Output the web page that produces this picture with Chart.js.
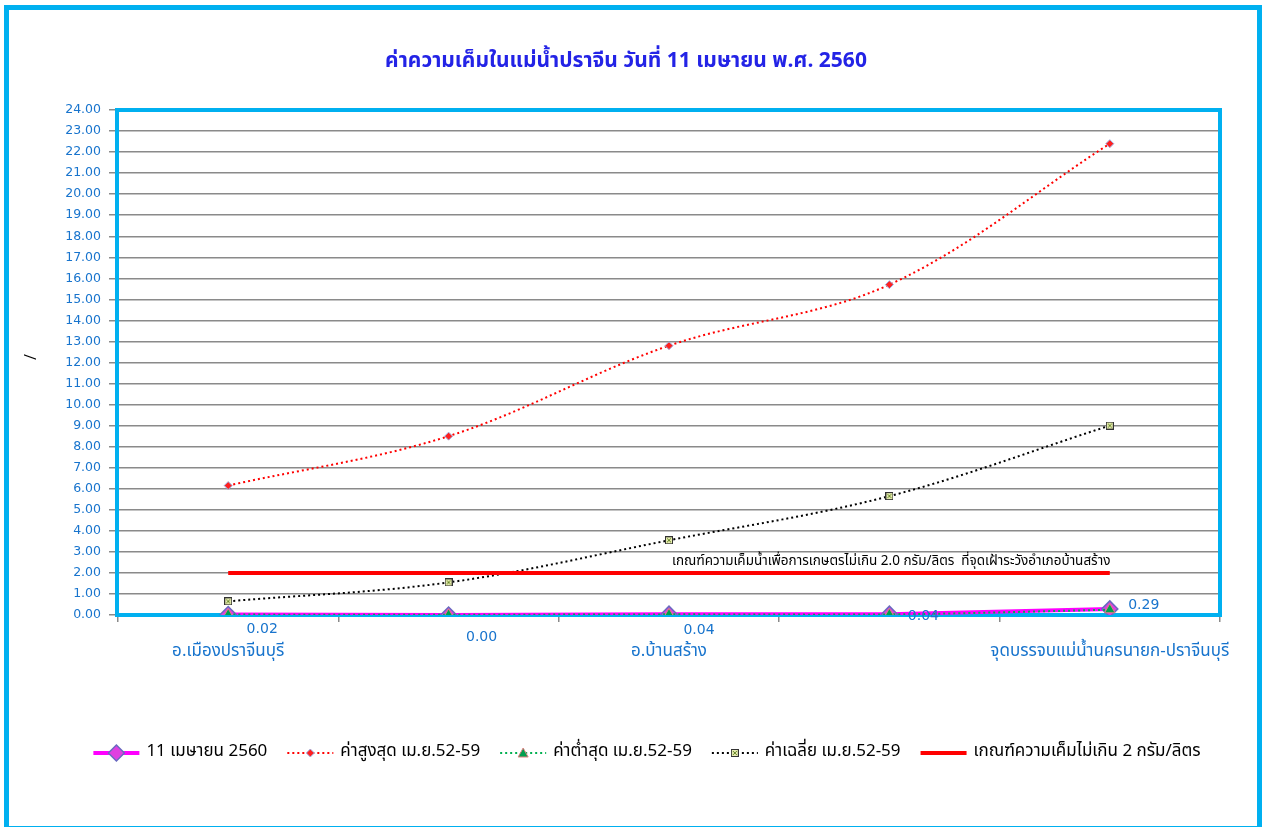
<!DOCTYPE html>
<html>
<head>
<meta charset="utf-8">
<script src="https://cdn.jsdelivr.net/npm/chart.js@4.4.1/dist/chart.umd.min.js"></script>
<style>
html,body{margin:0;padding:0;background:#fff;}
#wrap{position:relative;width:1263px;height:827px;}
</style>
</head>
<body>
<div id="wrap"><canvas id="c" width="1263" height="827"></canvas></div>
<script>
const categories = ['อ.เมืองปราจีนบุรี', '', 'อ.บ้านสร้าง', '', 'จุดบรรจบแม่น้ำนครนายก-ปราจีนบุรี'];
const current2560 = [0.02, 0.00, 0.04, 0.04, 0.29];
const maxValues = [6.15, 8.50, 12.80, 15.70, 22.40];
const minValues = [0.02, 0.01, 0.03, 0.03, 0.25];
const avgValues = [0.65, 1.55, 3.55, 5.65, 9.00];
const criterion = [2, 2, 2, 2, 2];
const yTicks = [0,1,2,3,4,5,6,7,8,9,10,11,12,13,14,15,16,17,18,19,20,21,22,23,24];
const seriesNames = ['11 เมษายน 2560', 'ค่าสูงสุด เม.ย.52-59', 'ค่าต่ำสุด เม.ย.52-59', 'ค่าเฉลี่ย เม.ย.52-59', 'เกณฑ์ความเค็มไม่เกิน 2 กรัม/ลิตร'];
const titleText = 'ค่าความเค็มในแม่น้ำปราจีน วันที่ 11 เมษายน พ.ศ. 2560';
const noteText = 'เกณฑ์ความเค็มน้ำเพื่อการเกษตรไม่เกิน 2.0 กรัม/ลิตร  ที่จุดเฝ้าระวังอำเภอบ้านสร้าง';

const THAI = 'Tahoma, "Noto Sans Thai", "Noto Sans", "DejaVu Sans", sans-serif';
const NUM = '"DejaVu Sans", Tahoma, sans-serif';
const CYAN = '#00B0F0';
const BLUE = '#1874CD';

function avgMarker(){
  const c = document.createElement('canvas'); c.width = 8; c.height = 8;
  const g = c.getContext('2d');
  g.fillStyle = '#E6EBB0'; g.fillRect(0,0,8,8);
  g.strokeStyle = '#333'; g.lineWidth = 1; g.strokeRect(0.5,0.5,7,7);
  g.strokeStyle = '#6A8A2A'; g.beginPath(); g.moveTo(2,2); g.lineTo(6,6); g.moveTo(6,2); g.lineTo(2,6); g.stroke();
  return c;
}
const avgImg = avgMarker();

const labelOffsets = [[34,15],[33,22],[30,16],[34,2],[34,-4]];

const decoPlugin = {
  id: 'deco',
  beforeDatasetsDraw(chart){
    const {ctx, chartArea:a} = chart;
    ctx.save();
    ctx.strokeStyle = CYAN; ctx.lineWidth = 4;
    ctx.strokeRect(a.left-1, a.top, a.right-a.left+1, a.bottom-a.top);
    ctx.restore();
  },
  afterDatasetsDraw(chart){
    const {ctx} = chart;
    const xs = chart.scales.x, ys = chart.scales.y;
    ctx.save();
    ctx.fillStyle = BLUE; ctx.font = '14px ' + NUM; ctx.textAlign = 'center'; ctx.textBaseline = 'middle';
    current2560.forEach((v,i)=>{
      const px = xs.getPixelForValue(i), py = ys.getPixelForValue(v);
      ctx.fillText(v.toFixed(2), px + labelOffsets[i][0], py + labelOffsets[i][1]);
    });
    ctx.fillStyle = '#000'; ctx.font = '13.5px ' + THAI; ctx.textAlign = 'left';
    ctx.fillText(noteText, xs.getPixelForValue(2) + 3, ys.getPixelForValue(2) - 11);
    ctx.restore();
  },
  afterDraw(chart){
    const {ctx} = chart;
    ctx.save();
    ctx.strokeStyle = CYAN; ctx.lineWidth = 5;
    ctx.strokeRect(6.5, 7.5, 1253, 821);
    ctx.fillStyle = '#2323E6'; ctx.font = 'bold 21px ' + THAI; ctx.textAlign = 'center'; ctx.textBaseline = 'middle';
    ctx.fillText(titleText, 626, 63);
    ctx.translate(33, 357); ctx.rotate(-Math.PI/2);
    ctx.fillStyle = '#000'; ctx.font = '16px ' + THAI;
    ctx.fillText('/', 0, 0);
    ctx.restore();
    // legend
    ctx.save();
    ctx.font = '17px ' + THAI; ctx.textBaseline = 'middle'; ctx.textAlign = 'left';
    const lineLen = 46, gap = 7, itemGap = 20, y = 753;
    const widths = seriesNames.map(n => lineLen + gap + ctx.measureText(n).width);
    const total = widths.reduce((s,w)=>s+w,0) + itemGap*(seriesNames.length-1);
    let x = 647 - total/2;
    const dsets = chart.data.datasets;
    seriesNames.forEach((n,i)=>{
      const d = dsets[i];
      ctx.save();
      ctx.strokeStyle = d.borderColor; ctx.lineWidth = d.borderWidth;
      ctx.setLineDash(d.borderDash || []);
      ctx.beginPath(); ctx.moveTo(x, y); ctx.lineTo(x+lineLen, y); ctx.stroke();
      ctx.setLineDash([]);
      const mx = x + lineLen/2;
      if (i === 0) {
        ctx.fillStyle = '#E040E0'; ctx.strokeStyle = '#6A6AC0'; ctx.lineWidth = 1.5;
        ctx.beginPath(); ctx.moveTo(mx, y-8); ctx.lineTo(mx+8, y); ctx.lineTo(mx, y+8); ctx.lineTo(mx-8, y); ctx.closePath(); ctx.fill(); ctx.stroke();
      } else if (i === 1) {
        ctx.fillStyle = '#FF2020'; ctx.strokeStyle = '#9DB0E0'; ctx.lineWidth = 1;
        ctx.beginPath(); ctx.moveTo(mx, y-4); ctx.lineTo(mx+4, y); ctx.lineTo(mx, y+4); ctx.lineTo(mx-4, y); ctx.closePath(); ctx.fill(); ctx.stroke();
      } else if (i === 2) {
        ctx.fillStyle = '#00A050'; ctx.strokeStyle = '#E08080'; ctx.lineWidth = 1;
        ctx.beginPath(); ctx.moveTo(mx, y-5); ctx.lineTo(mx+5, y+4); ctx.lineTo(mx-5, y+4); ctx.closePath(); ctx.fill(); ctx.stroke();
      } else if (i === 3) {
        ctx.drawImage(avgImg, mx-4, y-4, 8, 8);
      }
      ctx.restore();
      ctx.fillStyle = '#000';
      ctx.fillText(n, x + lineLen + gap, y);
      x += widths[i] + itemGap;
    });
    ctx.restore();
  }
};

new Chart(document.getElementById('c'), {
  type: 'line',
  data: {
    labels: categories,
    datasets: [
      { label: seriesNames[0], data: current2560, borderColor: '#FF00FF', borderWidth: 4, tension: 0,
        pointStyle: 'rectRot', pointRadius: 8, pointBackgroundColor: '#E040E0', pointBorderColor: '#6A6AC0', pointBorderWidth: 1.5, order: 5 },
      { label: seriesNames[1], data: maxValues, borderColor: '#FF0000', borderWidth: 2, borderDash: [2,3], tension: 0.35,
        pointStyle: 'rectRot', pointRadius: 4, pointBackgroundColor: '#FF2020', pointBorderColor: '#9DB0E0', pointBorderWidth: 1, order: 4 },
      { label: seriesNames[2], data: minValues, borderColor: '#00B050', borderWidth: 2, borderDash: [2,3], tension: 0.35,
        pointStyle: 'triangle', pointRadius: 6, pointBackgroundColor: '#00A050', pointBorderColor: '#E08080', pointBorderWidth: 1, order: 3 },
      { label: seriesNames[3], data: avgValues, borderColor: '#000000', borderWidth: 2, borderDash: [2,3], tension: 0.35,
        pointStyle: avgImg, pointRadius: 4, order: 2 },
      { label: seriesNames[4], data: criterion, borderColor: '#FF0000', borderWidth: 4, tension: 0,
        pointRadius: 0, order: 1 }
    ]
  },
  options: {
    responsive: false,
    animation: false,
    events: [],
    layout: { padding: { left: 0, right: 43, top: 110, bottom: 0 } },
    plugins: { legend: { display: false }, title: { display: false }, tooltip: { enabled: false } },
    scales: {
      x: {
        offset: true,
        afterFit(s){ s.height = 212; },
        grid: { offset: true, drawOnChartArea: false, tickLength: 7, color: '#8a8a8a', lineWidth: 1.5 },
        border: { display: true, color: '#8a8a8a', width: 1.5 },
        ticks: { autoSkip: false, maxRotation: 0, padding: 20, color: BLUE, font: { family: THAI, size: 17 } }
      },
      y: {
        min: 0, max: 24,
        afterFit(s){ s.width = 118; },
        afterBuildTicks(s){ s.ticks = yTicks.map(v => ({ value: v })); },
        grid: { color: '#8a8a8a', lineWidth: 1.5, tickLength: 9 },
        border: { display: true, color: '#8a8a8a', width: 1.5 },
        ticks: { padding: 8, color: BLUE, font: { family: NUM, size: 12.5 }, callback: v => Number(v).toFixed(2) }
      }
    }
  },
  plugins: [decoPlugin]
});
</script>
</body>
</html>
